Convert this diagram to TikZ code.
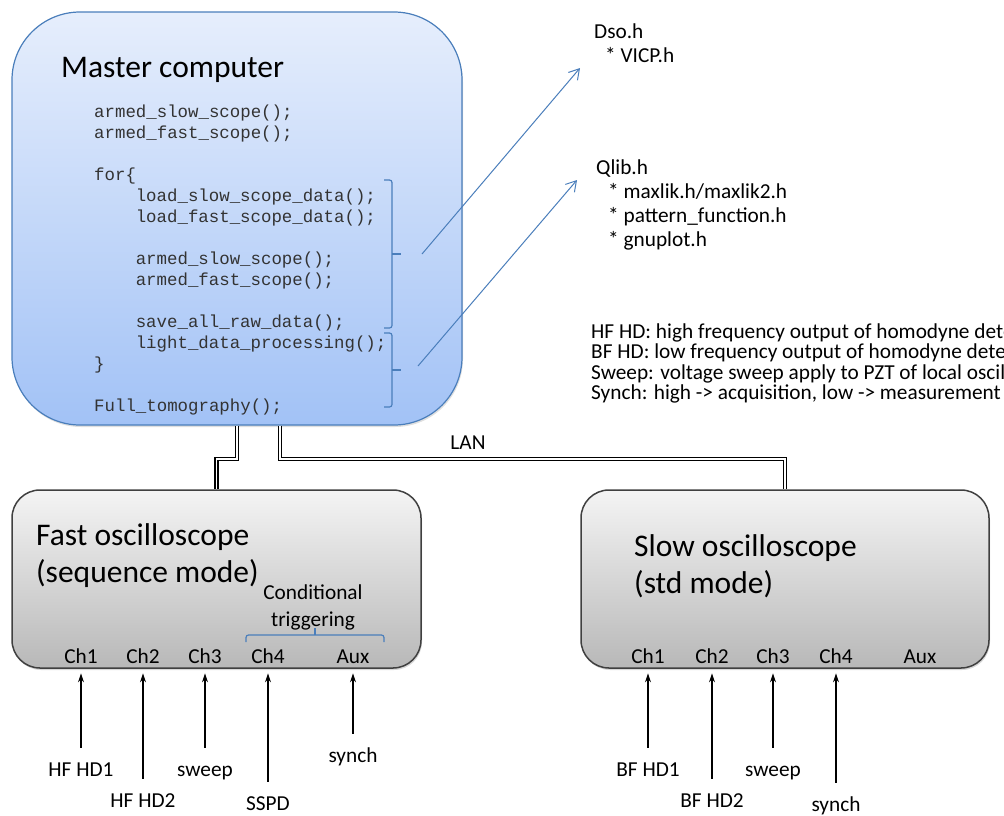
\documentclass[tikz,border=0pt]{standalone}
\usepackage{fontspec}
\setmainfont{Carlito}
\newfontfamily\codefont{Liberation Mono}
\usepackage{tikz}
\usetikzlibrary{arrows.meta,
                positioning,
                shadows
                }
\definecolor{accblue}{HTML}{4A7EBB}
\definecolor{pctop}{RGB}{230,238,252}
\definecolor{pcbot}{RGB}{162,194,246}
\definecolor{scopetop}{RGB}{244,244,244}
\definecolor{scopebot}{RGB}{184,184,184}

\tikzset{
    pcbox/.style={draw=accblue, line width=1.2pt, rounded corners=68pt,
                  top color=pctop, bottom color=pcbot,
                  drop shadow={opacity=0.25, shadow xshift=1pt, shadow yshift=-2pt}},
    scopebox/.style={draw=black!75, line width=1.5pt, rounded corners=28pt,
                     top color=scopetop, bottom color=scopebot,
                     drop shadow={opacity=0.3, shadow xshift=1pt, shadow yshift=-2pt}},
    boxtitle/.style={font=\fontsize{31.5}{36}\selectfont, inner sep=0pt, anchor=base west},
    smalltxt/.style={font=\fontsize{21.3}{24}\selectfont, inner sep=0pt},
    codeline/.style={font=\codefont\fontsize{17.4}{21}\selectfont, text=black!80, inner sep=0pt, anchor=base west},
    chan/.style={smalltxt, anchor=base},
    siglabel/.style={smalltxt, anchor=base, text height=14pt},
    sig/.style={-{Stealth[length=9pt, width=6pt]}, line width=1.2pt, shorten <=14pt, shorten >=10pt},
    lan/.style={draw=black, double=white, double distance=1.8pt, line width=1.2pt},
    brk/.style={draw=accblue, line width=1.2pt, rounded corners=2.5pt},
    libarrow/.style={draw=accblue, line width=1pt, -{Straight Barb[length=10pt, width=12pt]}}
}

\begin{document}
\begin{tikzpicture}[x=1pt, y=-1pt]
            \useasboundingbox (0,0) rectangle (1004,815);
            \clip (0,0) rectangle (1004,815);

            %boxes
            \node[pcbox, minimum width=450pt, minimum height=413pt] (master) at (237,218.5) {};
            \node[scopebox, minimum width=409pt, minimum height=178pt] (fast) at (216.5,579) {};
            \node[scopebox, minimum width=408pt, minimum height=178pt] (slow) at (785,579) {};

            %LAN cables
            \draw[lan] (master.south) -- ++(0,33) -| (fast.north);
            \draw[lan] ([xshift=43pt]master.south) -- ++(0,33) -| (slow.north);
            \node[smalltxt] (lan) at (468,443) {LAN};

            %master computer
            \node[boxtitle] (pctitle) at (61,77) {Master computer};
            \foreach \row/\lvl/\src in {1/0/{armed\_slow\_scope();},
                                        2/0/{armed\_fast\_scope();},
                                        4/0/{for\{},
                                        5/1/{load\_slow\_scope\_data();},
                                        6/1/{load\_fast\_scope\_data();},
                                        8/1/{armed\_slow\_scope();},
                                        9/1/{armed\_fast\_scope();},
                                        11/1/{save\_all\_raw\_data();},
                                        12/1/{light\_data\_processing();},
                                        13/0/{\}},
                                        15/0/{Full\_tomography();}}
                \node[codeline] (code\row) at ({94+41.6*\lvl}, {96+21*\row}) {\src};

            %brackets
            \draw[brk] (384,180) -- (392,180) -- (392,328) -- (384,328);
            \draw[brk] (392,254) -- (401,254);
            \draw[brk] (384,333) -- (392,333) -- (392,407) -- (384,407);
            \draw[brk] (392,370) -- (401,370);

            %headers
            \node[smalltxt, anchor=base west] (dso) at (594,38) {Dso.h};
            \node[smalltxt, anchor=base west] (vicp) at (605,62) {* VICP.h};
            \node[smalltxt, anchor=base west] (qlib) at (596,174) {Qlib.h};
            \node[smalltxt, anchor=base west] (maxlik) at (608,198) {* maxlik.h/maxlik2.h};
            \node[smalltxt, anchor=base west] (pattern) at (608,222) {* pattern\_function.h};
            \node[smalltxt, anchor=base west] (gnuplot) at (608,246) {* gnuplot.h};

            \coordinate (brA) at (422,254);
            \coordinate (libA) at (580,68);
            \coordinate (brB) at (418,366);
            \coordinate (libB) at (577,180);
            \draw[libarrow] (brA) -- (libA);
            \draw[libarrow] (brB) -- (libB);

            %legend
            \foreach \row/\txt in {0/{HF HD: high frequency output of homodyne detector},
                                   1/{BF HD: low frequency output of homodyne detector},
                                   2/{Sweep: voltage sweep apply to PZT of local oscillator},
                                   3/{Synch: high -> acquisition, low -> measurement}}
                \node[smalltxt, anchor=base west] (leg\row) at (591, {338+20.5*\row}) {\txt};

            %fast oscilloscope
            \node[boxtitle] (fasttitle) at (36,545) {Fast oscilloscope};
            \node[boxtitle] (fastmode) at (36,582) {(sequence mode)};
            \node[smalltxt, anchor=base] (cond) at (313,599) {Conditional};
            \node[smalltxt, anchor=base] (trig) at (313,626) {triggering};
            \draw[brk] (246,642) -- (246,635) -- (384,635) -- (384,642);
            \draw[brk] (315,635) -- (315,628);

            \foreach \n/\cx/\lab in {1/81/Ch1, 2/143/Ch2, 3/205/Ch3, 4/268/Ch4, 5/353/Aux}
                \node[chan] (fch\n) at (\cx,663) {\lab};
            \node[siglabel] (fin1) at (81,776) {HF HD1};
            \node[siglabel] (fin2) at (143,807) {HF HD2};
            \node[siglabel] (fin3) at (205,776) {sweep};
            \node[siglabel] (fin4) at (268,810) {SSPD};
            \node[siglabel] (fin5) at (353,762) {synch};
            \foreach \n in {1,...,5}
                \draw[sig] (fin\n.north) -- (fin\n.north |- fch\n.south);

            %slow oscilloscope
            \node[boxtitle] (slowtitle) at (634,556) {Slow oscilloscope};
            \node[boxtitle] (slowmode) at (634,593) {(std mode)};

            \foreach \n/\cx/\lab in {1/648/Ch1, 2/712/Ch2, 3/773/Ch3, 4/836/Ch4, 5/920/Aux}
                \node[chan] (sch\n) at (\cx,663) {\lab};
            \node[siglabel] (sin1) at (648,776) {BF HD1};
            \node[siglabel] (sin2) at (712,807) {BF HD2};
            \node[siglabel] (sin3) at (773,776) {sweep};
            \node[siglabel] (sin4) at (836,811) {synch};
            \foreach \n in {1,...,4}
                \draw[sig] (sin\n.north) -- (sin\n.north |- sch\n.south);
\end{tikzpicture}
\end{document}
